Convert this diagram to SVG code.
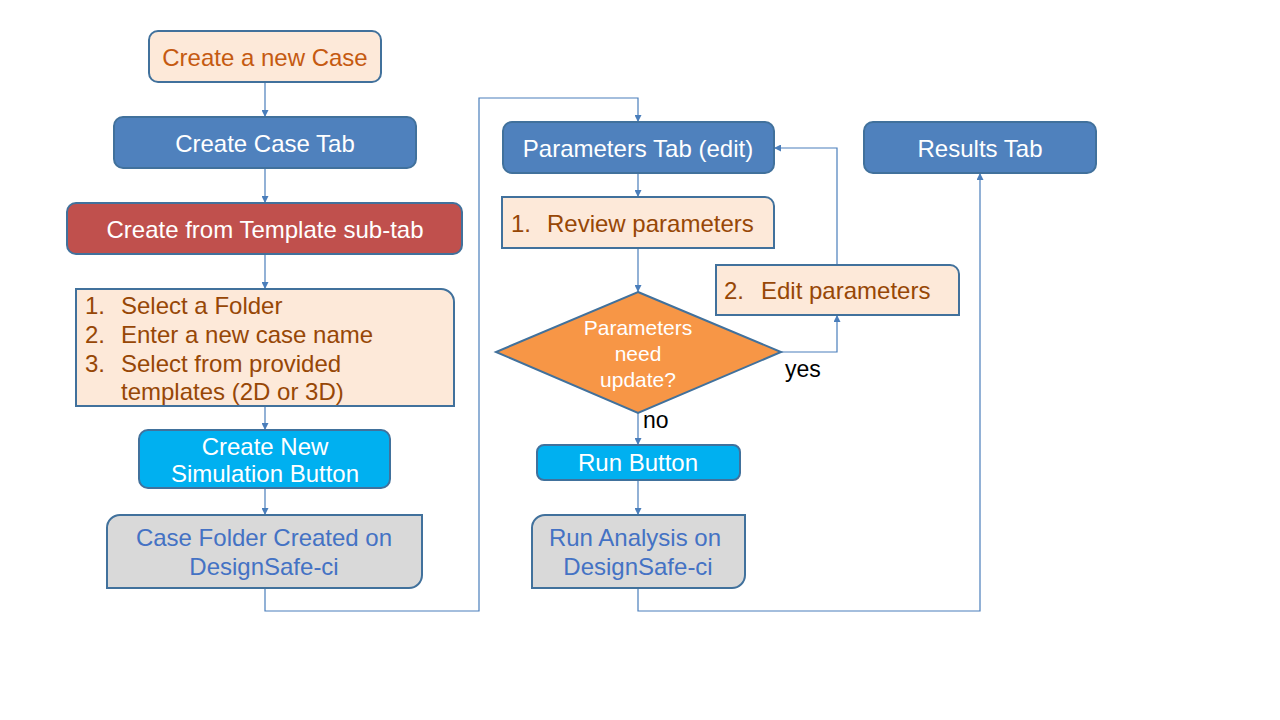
<svg xmlns="http://www.w3.org/2000/svg" width="1280" height="720" viewBox="0 0 1280 720">
<defs>
<style>
.n{stroke:#41719C;stroke-width:2}
.peach{fill:#FDE9D9}
.blue{fill:#4F81BD}
.red{fill:#C0504D}
.cyan{fill:#00B0F0}
.gray{fill:#D9D9D9}
.orange{fill:#F79646}
text{font-family:"Liberation Sans",Arial,sans-serif;font-size:24px}
.w{fill:#FFFFFF}
.o{fill:#C55A11}
.br{fill:#974706}
.bl{fill:#4472C4}
.k{fill:#000000;font-size:23px}
.c{text-anchor:middle}
.d{font-size:21px}
.con{fill:none;stroke:#4A7EBB;stroke-width:1.2}
</style>
<marker id="ah" viewBox="0 0 10 10" refX="10" refY="5" markerWidth="7" markerHeight="7" markerUnits="userSpaceOnUse" orient="auto">
<path d="M0,0 L10,5 L0,10 Z" fill="#4A7EBB"/>
</marker>
</defs>
<rect width="1280" height="720" fill="#FFFFFF"/>
<g id="connectors">
<path class="con" d="M265,82 V117" marker-end="url(#ah)"/>
<path class="con" d="M265,168 V203" marker-end="url(#ah)"/>
<path class="con" d="M265,254 V289" marker-end="url(#ah)"/>
<path class="con" d="M265,406 V430" marker-end="url(#ah)"/>
<path class="con" d="M265,488 V515" marker-end="url(#ah)"/>
<path class="con" d="M265,588 V611 H479 V98 H638 V122" marker-end="url(#ah)"/>
<path class="con" d="M638,173 V197" marker-end="url(#ah)"/>
<path class="con" d="M638,248 V292" marker-end="url(#ah)"/>
<path class="con" d="M781,352 H837 V315" marker-end="url(#ah)"/>
<path class="con" d="M837,265 V148 H774" marker-end="url(#ah)"/>
<path class="con" d="M638,413 V445" marker-end="url(#ah)"/>
<path class="con" d="M638,480 V515" marker-end="url(#ah)"/>
<path class="con" d="M638,588 V611 H980 V173" marker-end="url(#ah)"/>
<text class="k" x="785" y="377">yes</text>
<text class="k" x="643" y="428">no</text>
</g>
<g id="create-new-case">
<rect class="n peach" x="149" y="31" width="232" height="51" rx="9"/>
<text class="o c" x="265" y="66">Create a new Case</text>
</g>
<g id="create-case-tab">
<rect class="n blue" x="114" y="117" width="302" height="51" rx="9"/>
<text class="w c" x="265" y="152">Create Case Tab</text>
</g>
<g id="create-from-template">
<rect class="n red" x="67" y="203" width="395" height="51" rx="9"/>
<text class="w c" x="265" y="238">Create from Template sub-tab</text>
</g>
<g id="steps-list">
<path class="n peach" d="M76,289 H441 A13,13 0 0 1 454,302 V406 H76 Z"/>
<text class="br" x="85" y="314">1.</text><text class="br" x="121" y="314">Select a Folder</text>
<text class="br" x="85" y="343">2.</text><text class="br" x="121" y="343">Enter a new case name</text>
<text class="br" x="85" y="372">3.</text><text class="br" x="121" y="372">Select from provided</text>
<text class="br" x="121" y="400">templates (2D or 3D)</text>
</g>
<g id="create-simulation-button">
<rect class="n cyan" x="139" y="430" width="251" height="58" rx="9"/>
<text class="w c" x="265" y="455">Create New</text>
<text class="w c" x="265" y="482">Simulation Button</text>
</g>
<g id="case-folder-created">
<path class="n gray" d="M120,515 H422 V575 A13,13 0 0 1 409,588 H107 V528 A13,13 0 0 1 120,515 Z"/>
<text class="bl c" x="264" y="546">Case Folder Created on</text>
<text class="bl c" x="264" y="575">DesignSafe-ci</text>
</g>
<g id="parameters-tab">
<rect class="n blue" x="503" y="122" width="271" height="51" rx="9"/>
<text class="w c" x="638" y="157">Parameters Tab (edit)</text>
</g>
<g id="review-parameters">
<path class="n peach" d="M502,197 H765 A9,9 0 0 1 774,206 V248 H502 Z"/>
<text class="br" x="511" y="232">1.</text><text class="br" x="547" y="232">Review parameters</text>
</g>
<g id="edit-parameters">
<path class="n peach" d="M716,265 H950 A9,9 0 0 1 959,274 V315 H716 Z"/>
<text class="br" x="724" y="299">2.</text><text class="br" x="761" y="299">Edit parameters</text>
</g>
<g id="decision">
<path class="n orange" d="M638,292 L781,352 L638,413 L496,352 Z"/>
<text class="w c d" x="638" y="335">Parameters</text>
<text class="w c d" x="638" y="361">need</text>
<text class="w c d" x="638" y="387">update?</text>
</g>
<g id="run-button">
<rect class="n cyan" x="537" y="445" width="203" height="35" rx="7"/>
<text class="w c" x="638" y="471">Run Button</text>
</g>
<g id="run-analysis">
<path class="n gray" d="M545,515 H745 V575 A13,13 0 0 1 732,588 H532 V528 A13,13 0 0 1 545,515 Z"/>
<text class="bl c" x="635" y="546">Run Analysis on</text>
<text class="bl c" x="638" y="575">DesignSafe-ci</text>
</g>
<g id="results-tab">
<rect class="n blue" x="864" y="122" width="232" height="51" rx="9"/>
<text class="w c" x="980" y="157">Results Tab</text>
</g>
</svg>
